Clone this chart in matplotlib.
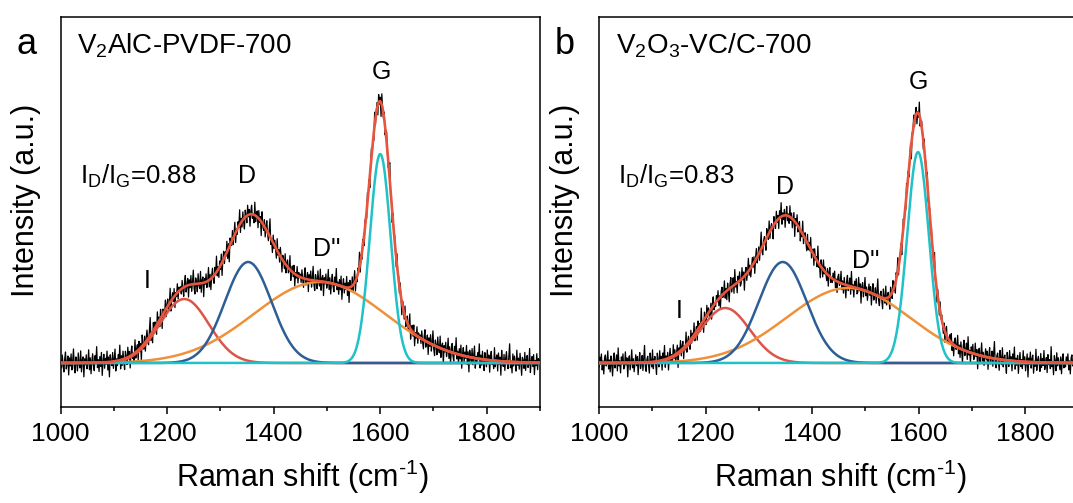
import numpy as np
import matplotlib

matplotlib.use("Agg")

import matplotlib.pyplot as plt
from matplotlib.ticker import MultipleLocator

IMAGE_DPI = 100.0

# Raman shift grid (cm-1)
SHIFT_MIN = 1000
SHIFT_MAX = 1900
SHIFT_STEP = 1.5

# fitted peaks: I, D, D'', G
PEAK_NAMES = ["I", "D", "D''", "G"]
CENTER_A = [1232, 1352, 1486, 1600]
HEIGHT_A = [64, 101, 81, 209]
FWHM_A = [109, 103, 290, 46]

CENTER_B = [1237, 1345, 1468, 1599]
HEIGHT_B = [55, 101, 75, 211]
FWHM_B = [109, 106, 272, 48]

# residual of the measured spectrum around the fit (estimated)
RESID_A = [3, -5, 8, -2, -9, 4, 11, -6, 0, 7, -12, 5, -3, 9, -7, 2, 14, -4, -10, 6,
           1, -8, 10, -1, -5, 12, -9, 3, 6, -14, 4, -2, 8, -6, 0, 13, -7, 5, -11, 2,
           9, -3, -8, 7, -1, 16, -5, 3, -9, 6, -4, 10, -13, 1, 8, -6, 4, -2, 11, -8,
           5, -15, 7, 0, -4, 9, -7, 3, 12, -10, 2, -5, 6, -1, 15, -9, 4, -6, 8, -3,
           -11, 7, 1, -7, 10, -2, 5, -12, 3, 9, -4, 0, -8, 13, -6, 2, 6, -10, 8, -3,
           4, -14, 11, -1, -5, 7, -9, 3, 10, -2, -7, 5, 18, -6, 1, -11, 8, -4, 6, -1,
           -9, 12, -3, 4, -7, 9, 0, -13, 5, 2, -6, 10, -8, 3, 7, -5, -2, 14, -10, 1,
           6, -4, 8, -12, 2, -3, 9, -7, 4, -1]
RESID_B = [-4, 6, -1, 9, -7, 2, -11, 5, 8, -3, 0, 12, -6, 3, -9, 7, -2, -13, 4, 10,
           -5, 1, 8, -8, 15, -3, 2, -10, 6, -1, 9, -6, -4, 11, -2, 5, -14, 3, 7, -7,
           1, 13, -5, 4, -9, 0, 8, -3, 6, -12, 2, 10, -6, -1, 7, -8, 4, 17, -4, -9,
           3, 6, -2, -11, 9, 1, -5, 12, -7, 2, 5, -3, -13, 8, 0, -6, 10, -2, 4, -10,
           7, -1, 14, -8, 3, -4, 6, -12, 1, 9, -5, 2, -7, 11, -3, 5, -9, 0, 8, -15,
           4, -2, 10, -6, 3, 7, -11, 1, -4, 13, -8, 2, 6, -1, -9, 9, -5, 4, -3, 12,
           -7, 0, 5, -10, 8, -2, 3, -6, 16, -4, 1, -12, 7, 2, -8, 10, -3, 5, -1, -7,
           6, -11, 4, 9, -5, 0]

SAMPLE_A = r"V$_\mathregular{2}$AlC-PVDF-700"
SAMPLE_B = r"V$_\mathregular{2}$O$_\mathregular{3}$-VC/C-700"
RATIO_A = r"I$_\mathregular{D}$/I$_\mathregular{G}$=0.88"
RATIO_B = r"I$_\mathregular{D}$/I$_\mathregular{G}$=0.83"
XLABEL = "Raman shift (cm$^{\\mathregular{\u2010}\\mathregular{1}}$)"

COLOR_DATA = "#000000"
COLOR_SUM = "#E8553E"
PEAK_COLORS = ["#DB5548", "#2D5E96", "#F0913A", "#20C2C8"]

plt.rcParams["font.family"] = ["Liberation Sans", "DejaVu Sans"]
plt.rcParams["mathtext.fontset"] = "custom"
plt.rcParams["mathtext.rm"] = "Liberation Sans"
plt.rcParams["mathtext.it"] = "Liberation Sans:italic"
plt.rcParams["mathtext.bf"] = "Liberation Sans:bold"


def gauss(x, c, h, w):
    return h * np.exp(-4.0 * np.log(2.0) * ((x - c) / w) ** 2)


def plot_panel(ax, letter, sample, ratio, centers, heights, fwhms, resid, label_pos, ylab_x):
    x = np.arange(SHIFT_MIN, SHIFT_MAX + 0.01, SHIFT_STEP)
    peaks = [gauss(x, c, h, w) for c, h, w in zip(centers, heights, fwhms)]
    total = np.sum(peaks, axis=0)
    data = total + np.resize(np.array(resid, dtype=float), x.size)

    ax.plot(x, data, color=COLOR_DATA, linewidth=0.9, zorder=2)
    for i in [0, 2, 1, 3]:
        ax.plot(x, peaks[i], color=PEAK_COLORS[i], linewidth=1.8, zorder=3)
    ax.plot(x, total, color=COLOR_SUM, linewidth=1.9, zorder=4)

    ax.set_xlim(SHIFT_MIN, SHIFT_MAX)
    ax.set_ylim(-43.7, 346)
    ax.xaxis.set_major_locator(MultipleLocator(200))
    ax.xaxis.set_minor_locator(MultipleLocator(100))
    ax.tick_params(axis="x", which="major", direction="out", length=5, width=1.1,
                   labelsize=19, pad=6)
    ax.tick_params(axis="x", which="minor", direction="out", length=3, width=1.1)
    ax.set_yticks([])
    for s in ax.spines.values():
        s.set_linewidth(1.1)

    ax.set_xlabel(XLABEL, fontsize=22)
    ax.xaxis.set_label_coords(0.503, -0.13)
    ax.set_ylabel("Intensity (a.u.)", fontsize=22)
    ax.yaxis.label.set_va("center")
    ax.yaxis.set_label_coords(ylab_x, 0.53)

    ax.text(ylab_x, 0.93, letter, transform=ax.transAxes, fontsize=26,
            ha="center", va="center")
    ax.text(0.035, 0.925, sample, transform=ax.transAxes, fontsize=20,
            ha="left", va="center")
    ax.text(0.04, 0.592, ratio, transform=ax.transAxes, fontsize=18.5,
            ha="left", va="center")

    for name, (lx, ly) in zip(PEAK_NAMES, label_pos):
        ax.text(lx, ly, name, fontsize=18, ha="center", va="center")


fig = plt.figure(figsize=(1073 / IMAGE_DPI, 503 / IMAGE_DPI), dpi=IMAGE_DPI)
ax_a = fig.add_axes([60.7 / 1073, 96.3 / 503, 479.3 / 1073, 389.7 / 503])
ax_b = fig.add_axes([599.0 / 1073, 96.3 / 503, 479.3 / 1073, 389.7 / 503])

plot_panel(ax_a, "a", SAMPLE_A, RATIO_A, CENTER_A, HEIGHT_A, FWHM_A, RESID_A,
           [(1162, 82), (1350, 187), (1500, 114), (1602, 291)], -0.072)
plot_panel(ax_b, "b", SAMPLE_B, RATIO_B, CENTER_B, HEIGHT_B, FWHM_B, RESID_B,
           [(1150, 52), (1349, 176), (1500, 102), (1600, 281)], -0.071)

fig.savefig("out.png", dpi=IMAGE_DPI)
